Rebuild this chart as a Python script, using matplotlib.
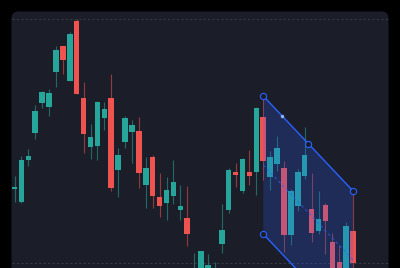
import matplotlib
matplotlib.use("Agg")
import matplotlib.pyplot as plt
from matplotlib.patches import FancyBboxPatch, Rectangle, Polygon
import numpy as np

# ---- data (price units; no axis shown) ----
opens  = [111.5, 98, 140, 167, 197, 193, 228, 254, 219, 279, 202, 153, 154, 182, 202, 130, 158, 168, 169, 115,
          143, 103, 97, 104, 90, 82, 10, 15, 10, 5, 56, 90, 128, 109, 128, 128, 183, 123, 136, 132,
          65, 94, 124, 91, 69, 95, 58, 38, 20, 69]
closes = [113.5, 140, 144, 189, 208, 207, 250, 240, 266, 206, 166, 163, 198, 191, 112, 145, 182, 175, 127, 132,
          104, 94, 110, 118, 94, 66, 28, 49, 35, 25, 70, 130, 125, 141, 124, 192, 139, 143, 152, 65,
          109, 128, 145, 67, 81, 79, 25, 15, 74, 37]
highs  = [124, 144, 151, 195, 209, 211, 254, 254, 268, 281, 218, 176, 199, 198, 226, 152, 184, 180, 183, 143,
          145, 127, 123, 140, 115, 114, 47, 49, 46, 38, 96, 132, 137, 142, 150, 193, 204, 149, 164, 139,
          111, 131, 173, 127, 109, 97, 67, 55, 78, 109]
lows   = [98, 97, 134, 161, 192, 184, 213, 226, 219, 206, 147, 141, 140, 170, 109, 103, 152, 137, 112, 92,
          92, 83, 80, 96, 80, 54, 0, 10, 5, 0, 47, 87, 113, 107, 115, 105, 120, 110, 129, 48,
          55, 89, 121, 58, 66, 46, 20, 10, 15, 30]

# parallel channel anchors: (candle index, price)
chan_start = (36, 204)
chan_end = (49, 109)
chan_low_start = (36, 66)

UP = "#26a69a"
DOWN = "#ef5350"
PANEL = "#1b1e28"
BLUE = "#2962ff"

fig = plt.figure(figsize=(4.0, 2.68), dpi=100, facecolor="black")

# background / panel in pixel units
bg = fig.add_axes([0, 0, 1, 1])
bg.set_xlim(0, 400)
bg.set_ylim(268, 0)
bg.axis("off")
bg.add_patch(FancyBboxPatch((11.5, 11.5), 377, 300,
                            boxstyle="round,pad=0,rounding_size=7",
                            fc=PANEL, ec="none"))
for yy in (19, 263):
    bg.plot([12, 388], [yy, yy], color="#363a46", lw=0.8, ls=(0, (2, 2)))

# data axes
ax = fig.add_axes([0, 0, 1, 1], facecolor="none")
step = 6.91
x0 = 14.5
ax.set_xlim(-x0 / step, (400 - x0) / step)
ax.set_ylim(300 - 268, 300)
ax.axis("off")

w = 0.8
for i, (o, c, h, l) in enumerate(zip(opens, closes, highs, lows)):
    col = UP if c >= o else DOWN
    ax.plot([i, i], [l, h], color=col, lw=0.8, alpha=0.55, zorder=2, solid_capstyle="butt")
    lo, hi = min(o, c), max(o, c)
    ax.add_patch(Rectangle((i - w / 2, lo), w, max(hi - lo, 1.0), fc=col, ec="none", zorder=3))

# channel
(xa, ya), (xb, yb), (xc, yc) = chan_start, chan_end, chan_low_start
dy = yb - ya
xd, yd = xb, yc + dy
poly = Polygon([(xa, ya), (xb, yb), (xd, yd), (xc, yc)], closed=True,
               fc=BLUE, alpha=0.22, ec="none", zorder=4)
ax.add_patch(poly)
ax.plot([xa, xb], [ya, yb], color=BLUE, lw=1.0, zorder=5)
ax.plot([xc, xd], [yc, yd], color=BLUE, lw=1.0, zorder=5)
ym0, ym1 = (ya + yc) / 2, (yb + yd) / 2
ax.plot([xa, xb], [ym0, ym1], color=BLUE, lw=1.0, ls=(0, (2, 2)), alpha=0.6, zorder=5)
xm = (xa + xb) / 2
for (px, py) in [(xa, ya), (xb, yb), (xc, yc), (xm, (ya + yb) / 2)]:
    ax.plot(px, py, marker="o", ms=4.5, mfc=PANEL, mec=BLUE, mew=0.8, zorder=6)
ax.plot(xa + 2.7, ya + dy * 2.7 / (xb - xa), marker="o", ms=1.5, color="#8fb0ff", zorder=6)

fig.savefig("out.png", dpi=100, facecolor="black")
